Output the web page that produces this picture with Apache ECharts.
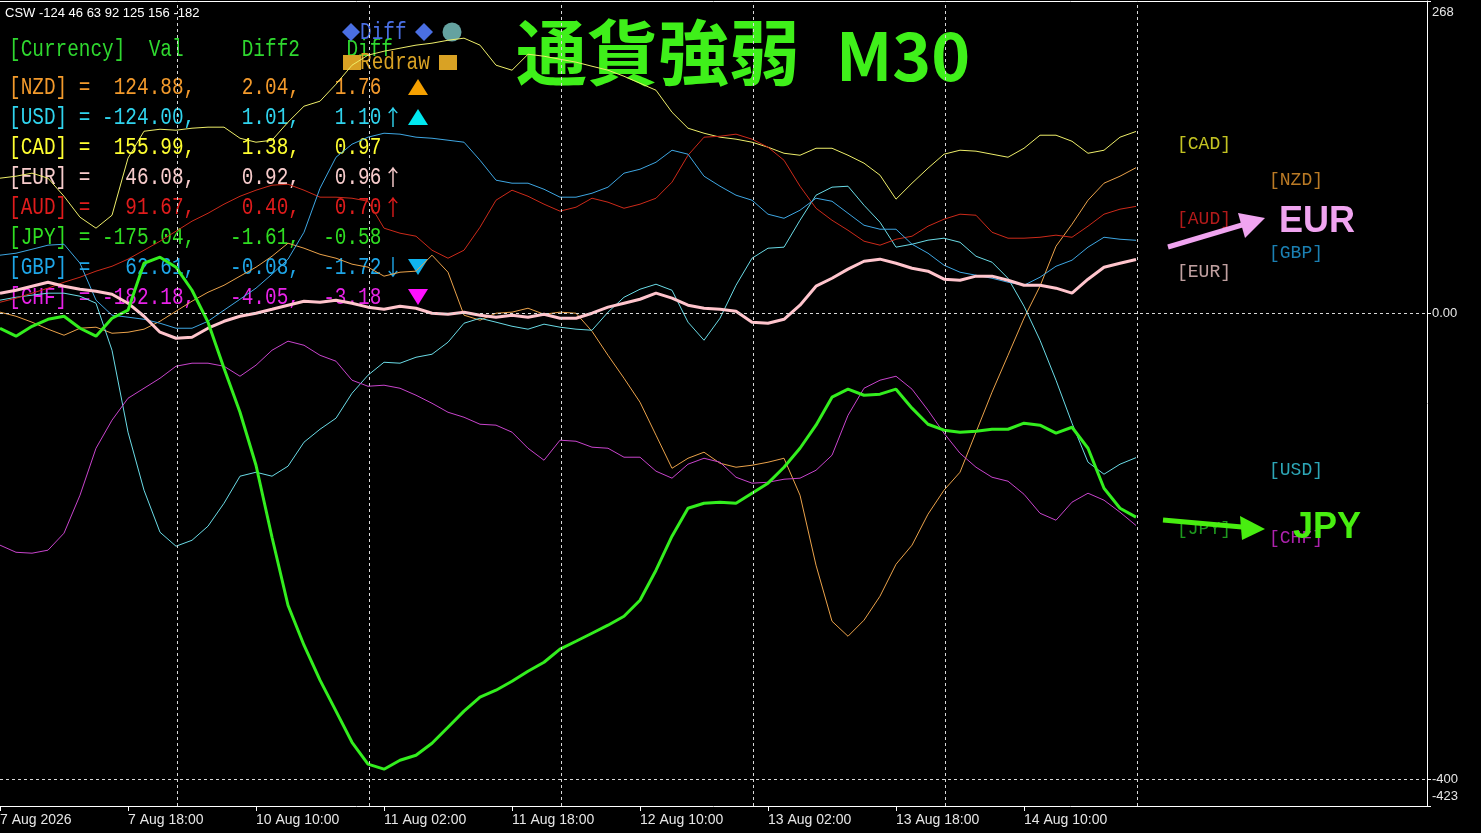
<!DOCTYPE html>
<html><head><meta charset="utf-8">
<script src="https://cdn.jsdelivr.net/npm/echarts@6.0.0/dist/echarts.min.js"></script>
<style>html,body{margin:0;padding:0;background:#000;}#c{width:1481px;height:833px;}</style>
</head><body><div id="c"></div>
<script>
// ---- table data ----
const currencies = ['NZD','USD','CAD','EUR','AUD','JPY','GBP','CHF'];
const val   = [124.88, -124.00, 155.99, 46.08, 91.67, -175.04, 62.61, -182.18];
const diff2 = [2.04, 1.01, 1.38, 0.92, 0.40, -1.61, -0.08, -4.05];
const diff  = [1.76, 1.10, 0.97, 0.96, 0.70, -0.58, -1.72, -3.18];
const trendArrow = ['', '↑', '', '↑', '↑', '', '↓', ''];
const signal = ['▲', '▲', '', '', '', '', '▼', '▼'];
const cswOrder = ['USD','EUR','GBP','AUD','NZD','CAD','CHF'];

// ---- axis data ----
const tickLabels = ['7 Aug 2026','7 Aug 18:00','10 Aug 10:00','11 Aug 02:00','11 Aug 18:00','12 Aug 10:00','13 Aug 02:00','13 Aug 18:00','14 Aug 10:00'];
const tickBars = [0, 32, 64, 96, 128, 160, 192, 224, 256];
const daySeparatorBars = [44.25, 92.25, 140.25, 188.25, 236.25, 284.25];
const yTickValues = [268, 0, -400, -423];
const levelLines = [0, -400];
const sampleBars = Array.from({length: 72}, (_, i) => i * 4); // one sample every 4 M30 bars

// ---- series values (one value per sample bar) ----
const NZD = [0.9,-2.6,-7.7,-13.7,-18.9,-12.9,-12.0,-17.2,
  -16.3,-13.7,-6.9,1.7,10.3,18.0,24.0,31.8,
  39.5,48.9,60.1,55.8,50.6,47.2,42.1,39.5,
  31.8,35.2,36.1,49.8,35.2,-1.7,-6.0,0,
  0.9,4.3,-0.9,0.9,0,-15.5,-36.1,-55.8,
  -76.4,-104.7,-133.1,-124.5,-119.3,-128.8,-132.2,-130.5,
  -127.9,-124.5,-156.2,-216.3,-264.4,-277.3,-263.5,-242.9,
  -215.5,-199.1,-172.5,-151.9,-136.5,-102.1,-67.8,-36.1,
  -4.3,23.2,57.5,76.4,97.0,111.6,117.6,124.9];
const USD = [11.2,13.7,15.5,17.2,17.2,14.6,8.6,-31.8,
  -102.1,-151.9,-188.0,-200.0,-194.9,-182.8,-163.1,-139.9,
  -136.5,-139.9,-131.3,-110.7,-99.6,-90.1,-68.7,-53.2,
  -42.1,-42.9,-37.8,-35.2,-24.9,-8.6,-4.3,-7.7,
  -11.2,-13.7,-9.4,-12.0,-13.7,-14.6,0.9,13.7,
  20.6,24.9,19.7,-7.7,-23.2,-4.3,24.0,47.2,
  55.8,56.7,79.8,101.3,108.2,109.0,92.7,78.1,
  56.7,59.2,62.7,64.4,60.9,48.9,43.8,30.0,
  6.0,-23.2,-57.5,-94.4,-127.9,-138.2,-129.6,-124.0];
const CAD = [115.9,117.6,120.2,115.9,100.4,82.4,73.0,84.1,
  133.1,156.2,157.9,157.1,158.8,159.7,159.7,150.2,
  146.8,148.5,164.0,177.7,182.0,196.6,212.9,221.5,
  224.9,227.5,230.1,231.8,234.3,236.1,230.1,212.9,
  208.6,222.3,220.6,218.0,215.5,212.0,208.6,203.4,
  197.4,191.4,172.5,158.8,154.5,151.1,149.4,146.8,
  142.5,137.3,135.6,141.6,141.6,135.6,128.8,118.5,
  97.9,111.6,124.5,136.5,139.9,139.1,136.5,133.9,
  141.6,152.8,152.8,147.6,137.3,139.9,151.1,156.0];
const EUR = [17.2,19.7,23.2,26.6,23.2,20.6,18.9,16.3,
  8.6,-2.6,-16.3,-21.5,-20.6,-12.9,-6.9,-2.6,
  0,3.4,6.9,10.3,9.4,11.2,8.6,5.2,
  3.4,6.0,4.3,0,-0.9,0.9,-1.7,-3.4,
  -1.7,-3.4,-0.9,-4.3,-4.3,0,5.2,8.6,
  12.0,17.2,12.9,6.9,4.3,3.4,1.7,-7.7,
  -8.6,-5.2,6.9,23.2,30.0,37.8,44.6,46.4,
  42.9,38.6,36.1,29.2,28.3,31.8,31.8,28.3,
  24.0,24.0,21.5,17.2,29.2,39.5,42.9,46.1];
const AUD = [9.4,12.9,17.2,21.5,26.6,30.9,36.1,40.3,
  46.4,54.1,61.8,70.4,79.0,85.8,93.6,100.4,
  105.6,109.9,110.7,105.6,99.6,99.6,98.7,96.1,
  73.0,68.7,66.1,54.1,47.2,54.1,73.8,97.0,
  105.6,100.4,93.6,87.6,91.0,98.7,95.3,90.1,
  93.6,98.7,112.5,135.6,151.1,151.9,153.7,149.4,
  142.5,131.3,109.0,90.1,79.8,71.2,61.8,58.4,
  63.5,66.1,74.7,80.7,85.0,84.1,69.5,64.4,
  64.4,65.2,67.0,65.2,74.7,85.0,89.3,91.7];
const JPY = [-12.9,-19.7,-11.2,-5.2,-2.6,-12.9,-19.7,-4.3,
  2.6,42.9,48.1,39.5,19.7,-7.7,-47.2,-85.0,
  -130.5,-192.3,-250.7,-285.0,-315.0,-341.6,-368.3,-387.1,
  -391.4,-383.7,-379.4,-369.1,-355.4,-341.6,-329.6,-323.6,
  -315.9,-307.3,-299.6,-288.4,-281.6,-274.7,-267.8,-260.1,
  -246.4,-220.6,-191.4,-167.4,-163.1,-162.2,-163.1,-154.5,
  -145.9,-132.2,-115.9,-96.1,-72.1,-65.2,-70.4,-69.5,
  -65.2,-81.5,-95.3,-100.4,-102.1,-101.3,-99.6,-99.6,
  -94.4,-96.1,-103.0,-97.9,-115.9,-150.2,-167.4,-175.0];
const GBP = [49.8,51.5,54.9,58.4,59.2,42.9,11.2,-1.7,
  -3.4,-5.2,-8.6,-12.9,-12.9,-6.9,2.6,12.0,
  21.5,33.5,46.4,69.5,107.3,133.9,145.1,151.1,
  154.5,153.7,151.1,150.2,148.5,146.8,131.3,114.2,
  111.6,111.6,106.4,99.6,99.6,103.0,108.2,120.2,
  123.6,129.6,139.9,136.5,117.6,109.0,101.3,97.0,
  85.0,81.5,88.4,98.7,96.1,85.8,75.5,72.1,
  72.1,59.2,51.5,41.2,35.2,32.6,30.0,26.6,
  24.0,30.9,40.3,45.5,56.7,65.2,63.5,62.6];
const CHF = [-199.1,-205.2,-206.0,-203.4,-188.8,-156.2,-115.9,-91.8,
  -73.0,-64.4,-55.8,-45.5,-42.9,-42.9,-45.5,-54.1,
  -44.6,-31.8,-24.0,-27.5,-36.1,-41.2,-57.5,-62.7,
  -61.8,-64.4,-70.4,-77.3,-85.0,-89.3,-95.3,-96.1,
  -102.1,-115.9,-126.2,-109.0,-109.9,-115.0,-115.9,-123.6,
  -123.6,-135.6,-141.6,-129.6,-124.5,-127.9,-140.8,-145.9,
  -145.1,-142.5,-141.6,-134.8,-121.9,-87.6,-64.4,-57.5,
  -54.1,-65.2,-83.3,-103.0,-120.2,-132.2,-140.8,-144.2,
  -155.4,-171.7,-177.7,-162.2,-154.5,-160.5,-170.8,-182.2];

const seriesData = {NZD, USD, CAD, EUR, AUD, JPY, GBP, CHF};

// ---- styles ----
const textColor = {NZD:'#f39a2c', USD:'#30d4ee', CAD:'#ffff30', EUR:'#f8cccc', AUD:'#e01c1c', JPY:'#30de22', GBP:'#1ea6e8', CHF:'#e822e8'};
const lineColor = {NZD:'#eaa24a', USD:'#6adbe6', CAD:'#eeee6a', EUR:'#ffc4cc', AUD:'#cc2a1a', JPY:'#33ee1e', GBP:'#3ea6e2', CHF:'#c844cc'};
const labelColor = {NZD:'#e8982e', USD:'#38cfe4', CAD:'#f4f42a', EUR:'#f0c8c8', AUD:'#e02020', JPY:'#26c026', GBP:'#22a0e0', CHF:'#d82ad8'};
const signalColor = {'▲NZD':'#f5a000', '▲USD':'#00e8f0', '▼GBP':'#10b4f0', '▼CHF':'#ff10ff'};
const MONO = '"Liberation Mono", "DejaVu Sans Mono", monospace';
const MONO_SIZE = 19.4, MONO_SY = 1.28;
const SANS = '"Liberation Sans", Arial, sans-serif';
const CJK = '"Noto Sans CJK JP", sans-serif';

function txt(x, y, text, fill, o) {
  o = o || {};
  return {
    type: 'text', x: x, y: y, scaleY: o.sy || 1, z: o.z || 1, silent: true,
    style: {
      text: text, fill: fill,
      fontFamily: o.family || MONO, fontSize: o.size || MONO_SIZE, fontWeight: o.weight || 'normal',
      align: o.align || 'left', verticalAlign: 'middle',
      textAlign: o.align || 'left', textVerticalAlign: 'middle'
    }
  };
}

const fmt = (v, w) => v.toFixed(2).padStart(w);
const graphics = [];
// CSW line
const csw = 'CSW ' + cswOrder.map(c => Math.round(val[currencies.indexOf(c)])).join(' ');
graphics.push(txt(5, 13, csw, '#ffffff', {family: SANS, size: 13}));
// header
graphics.push(txt(9, 49, '[Currency]  Val     Diff2    Diff', '#2fd82f', {sy: MONO_SY}));
// Diff / Redraw buttons
graphics.push({type:'polygon', z:1, silent:true, shape:{points:[[351,23],[360,32],[351,41],[342,32]]}, style:{fill:'#4a6fe3'}});
graphics.push(txt(360, 32, 'Diff', '#4a6fe3', {sy: MONO_SY}));
graphics.push({type:'polygon', z:1, silent:true, shape:{points:[[424,23],[433,32],[424,41],[415,32]]}, style:{fill:'#4a6fe3'}});
graphics.push({type:'circle', z:1, silent:true, shape:{cx:452, cy:32, r:9.5}, style:{fill:'#64a2a0'}});
graphics.push({type:'rect', z:1, silent:true, shape:{x:343, y:55, width:18, height:15}, style:{fill:'#d9a224'}});
graphics.push(txt(360, 62, 'Redraw', '#d9a224', {sy: MONO_SY}));
graphics.push({type:'rect', z:1, silent:true, shape:{x:439, y:55, width:18, height:15}, style:{fill:'#d9a224'}});
// table rows
currencies.forEach((c, i) => {
  const y = 87 + i * 30;
  const row = '[' + c + '] =' + fmt(val[i], 8) + ',' + fmt(diff2[i], 8) + ',' + fmt(diff[i], 7);
  graphics.push(txt(9, y, row, textColor[c], {sy: MONO_SY}));
  if (trendArrow[i]) graphics.push(txt(393, y, trendArrow[i], textColor[c], {family: CJK, size: 20, align: 'center', sy: 1.1}));
  if (signal[i]) {
    const col = signalColor[signal[i] + c];
    const pts = signal[i] === '▲' ? [[418, y - 8], [428, y + 8], [408, y + 8]] : [[408, y - 8], [428, y - 8], [418, y + 8]];
    graphics.push({type:'polygon', z:1, silent:true, shape:{points: pts}, style:{fill: col}});
  }
});
// title
graphics.push(txt(516, 52, '通貨強弱', '#3ff01a', {family: CJK, size: 71, weight: 'bold'}));
graphics.push(txt(836, 56, 'M30', '#3ff01a', {family: CJK, size: 66, weight: 'bold'}));
// strongest / weakest arrows
graphics.push({type:'polyline', z:10, silent:true, shape:{points:[[1168,247],[1242,225]]}, style:{stroke:'#f0a4f0', lineWidth:5}});
graphics.push({type:'polygon', z:10, silent:true, shape:{points:[[1265,218],[1238,213],[1245,238]]}, style:{fill:'#f0a4f0'}});
graphics.push(txt(1317, 222, 'EUR', '#f0a4f0', {family: SANS, size: 36, weight: 'bold', align: 'center', z: 10}));
graphics.push({type:'polyline', z:10, silent:true, shape:{points:[[1163,520],[1242,527]]}, style:{stroke:'#48ee10', lineWidth:5}});
graphics.push({type:'polygon', z:10, silent:true, shape:{points:[[1265,529],[1240,516],[1242,540]]}, style:{fill:'#48ee10'}});
graphics.push(txt(1327, 528, 'JPY', '#48ee10', {family: SANS, size: 36, weight: 'bold', align: 'center', z: 10}));

// right-hand labels at each currency's final value, alternating columns by rank
const labelColumnBars = [301, 324];
const ranked = currencies.map((c, i) => ({c, v: val[i]})).sort((a, b) => b.v - a.v);
const labelPoints = ranked.map((r, k) => ({
  value: [labelColumnBars[k % 2], r.v],
  label: {formatter: '[' + r.c + ']', color: labelColor[r.c]}
}));

const thin = ['NZD','USD','CAD','AUD','GBP','CHF'];
const series = [];
series.push({
  type: 'line', data: [], silent: true, z: 0,
  markLine: {
    silent: true, symbol: ['none','none'], label: {show: false},
    lineStyle: {color: '#d8d8d8', type: [3, 3], width: 1},
    data: daySeparatorBars.map(b => ({xAxis: b})).concat(levelLines.map(v => ({yAxis: v})))
  }
});
const addLine = (c, w, z) => series.push({
  type: 'line', name: c, z: z, symbol: 'none', silent: true,
  data: sampleBars.map((b, i) => [b, seriesData[c][i]]),
  lineStyle: {color: lineColor[c], width: w}
});
thin.forEach(c => addLine(c, 1, 2));
addLine('EUR', 3, 3);
addLine('JPY', 3, 4);
series.push({
  type: 'scatter', symbolSize: 0, z: 5, silent: true, data: labelPoints,
  label: {show: true, position: 'inside', offset: [0, 12.5], fontFamily: MONO, fontSize: 18, align: 'center', verticalAlign: 'middle'}
});

const yMax = yTickValues[0], yMin = yTickValues[yTickValues.length - 1];
const chart = echarts.init(document.getElementById('c'), null, {renderer: 'canvas'});
chart.setOption({
  backgroundColor: '#000000',
  animation: false,
  grid: {left: 0, right: 54, top: 1, bottom: 27, containLabel: false, outerBoundsMode: 'none'},
  xAxis: [{
    type: 'value', min: 0, max: 356.75,
    axisLine: {show: true, onZero: false, lineStyle: {color: '#ffffff', width: 1}},
    axisTick: {show: true, length: 5, customValues: tickBars, lineStyle: {color: '#ffffff'}},
    axisLabel: {
      customValues: tickBars, align: 'left', margin: 7, color: '#e6e6e6',
      fontFamily: SANS, fontSize: 14,
      formatter: v => { const k = tickBars.indexOf(v); return k >= 0 ? tickLabels[k] : ''; }
    },
    splitLine: {show: false}
  }, {
    type: 'value', position: 'top', min: 0, max: 356.75,
    axisLine: {show: true, onZero: false, lineStyle: {color: '#ffffff', width: 1}},
    axisTick: {show: false}, axisLabel: {show: false}, splitLine: {show: false}
  }],
  yAxis: {
    type: 'value', position: 'right', min: yMin, max: yMax,
    axisLine: {show: true, onZero: false, lineStyle: {color: '#ffffff', width: 1}},
    axisTick: {show: true, length: 4, customValues: yTickValues, lineStyle: {color: '#ffffff'}},
    axisLabel: {
      customValues: yTickValues, margin: 5, color: '#e6e6e6',
      fontFamily: SANS, fontSize: 13,
      formatter: v => v === yMax ? '{top|' + v + '}' : v === yMin ? '{bot|' + v + '}' : v === 0 ? '0.00' : String(v),
      rich: {
        top: {padding: [22, 0, 0, 0], fontFamily: SANS, fontSize: 13, color: '#e6e6e6'},
        bot: {padding: [0, 0, 20, 0], fontFamily: SANS, fontSize: 13, color: '#e6e6e6'}
      }
    },
    splitLine: {show: false}
  },
  graphic: graphics,
  series: series
});
</script></body></html>
